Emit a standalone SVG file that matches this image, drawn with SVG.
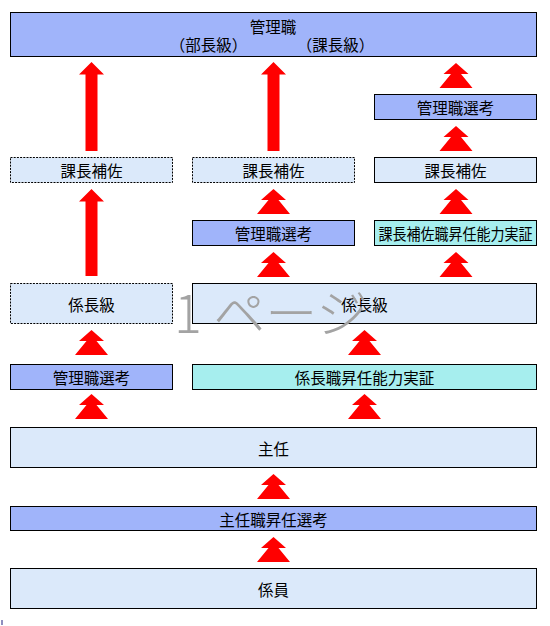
<svg xmlns="http://www.w3.org/2000/svg" width="550" height="626" viewBox="0 0 550 626">
<style>
  .box { stroke: #000; stroke-width: 1; }
  .dash { stroke-dasharray: 2 1.2; }
  .blue { fill: #a0b4fa; }
  .light { fill: #dbe9fa; }
  .cyan { fill: #a6eeee; }
  .lbl { font-family: "Noto Sans CJK JP", "Noto Sans CJK SC", sans-serif; font-size: 15.5px; fill: #000; text-anchor: middle; dominant-baseline: central; }
  .arrow { fill: #ff0000; }
  .wm { font-family: "Noto Sans CJK JP", "Noto Sans CJK SC", sans-serif; font-size: 52px; font-weight: 300; fill: #a3a3a3; }
</style>
<defs>
  <path id="chev" d="M0,0 L12.5,11 L5,11 L16.5,25 L-16.5,25 L-5,11 L-12.5,11 Z"/>
</defs>
<rect width="550" height="626" fill="#ffffff"/>

<g id="n-kanrishoku">
  <rect class="box blue" x="10.5" y="12.5" width="526" height="44"/>
  <text class="lbl" x="273" y="25.5">管理職</text>
  <text class="lbl" x="208.5" y="43.5">（部長級）</text>
  <text class="lbl" x="335.5" y="43.5">（課長級）</text>
</g>
<g id="n-senko-r">
  <rect class="box blue" x="374.5" y="94.5" width="162" height="25"/>
  <text class="lbl" x="455.5" y="107">管理職選考</text>
</g>
<g id="n-kahosa-l">
  <rect class="box light dash" x="10.5" y="157.5" width="162" height="25"/>
  <text class="lbl" x="91.5" y="170">課長補佐</text>
</g>
<g id="n-kahosa-m">
  <rect class="box light dash" x="192.5" y="157.5" width="162" height="25"/>
  <text class="lbl" x="273.5" y="170">課長補佐</text>
</g>
<g id="n-kahosa-r">
  <rect class="box light" x="374.5" y="157.5" width="162" height="25"/>
  <text class="lbl" x="455.5" y="170">課長補佐</text>
</g>
<g id="n-senko-m">
  <rect class="box blue" x="192.5" y="220.5" width="162" height="25"/>
  <text class="lbl" x="273.5" y="233">管理職選考</text>
</g>
<g id="n-kahosa-jissho">
  <rect class="box cyan" x="374.5" y="220.5" width="162" height="25"/>
  <text class="lbl" x="455.5" y="233" textLength="154" lengthAdjust="spacingAndGlyphs">課長補佐職昇任能力実証</text>
</g>
<g id="n-kakaricho-l">
  <rect class="box light dash" x="10.5" y="283.5" width="162" height="40"/>
  <text class="lbl" x="91.5" y="303.5">係長級</text>
</g>
<g id="n-kakaricho-r">
  <rect class="box light" x="192.5" y="283.5" width="344" height="40"/>
  <text class="lbl" x="364.5" y="303.5">係長級</text>
</g>
<g id="n-senko-l">
  <rect class="box blue" x="10.5" y="364.5" width="162" height="25"/>
  <text class="lbl" x="91.5" y="377">管理職選考</text>
</g>
<g id="n-kakaricho-jissho">
  <rect class="box cyan" x="192.5" y="364.5" width="344" height="25"/>
  <text class="lbl" x="364.5" y="377">係長職昇任能力実証</text>
</g>
<g id="n-shunin">
  <rect class="box light" x="10.5" y="427.5" width="526" height="40"/>
  <text class="lbl" x="273.5" y="447.5">主任</text>
</g>
<g id="n-shunin-senko">
  <rect class="box blue" x="10.5" y="506.5" width="526" height="24"/>
  <text class="lbl" x="273.5" y="518.5">主任職昇任選考</text>
</g>
<g id="n-kakariin">
  <rect class="box light" x="10.5" y="568.5" width="526" height="40"/>
  <text class="lbl" x="273.5" y="588.5">係員</text>
</g>

<g id="connectors" class="arrow">
  <path d="M91.5,62 L104,74.5 L97.5,74.5 L97.5,151 L85.5,151 L85.5,74.5 L79,74.5 Z"/>
  <path d="M273.5,62 L286,74.5 L279.5,74.5 L279.5,151 L267.5,151 L267.5,74.5 L261,74.5 Z"/>
  <path d="M91.5,189 L104,201.5 L97.5,201.5 L97.5,276 L85.5,276 L85.5,201.5 L79,201.5 Z"/>
  <use href="#chev" x="456" y="63"/>
  <use href="#chev" x="456" y="126"/>
  <use href="#chev" x="456" y="189"/>
  <use href="#chev" x="456" y="252"/>
  <use href="#chev" x="273.5" y="189"/>
  <use href="#chev" x="273.5" y="252"/>
  <use href="#chev" x="91.5" y="330"/>
  <use href="#chev" x="91.5" y="394"/>
  <use href="#chev" x="364.5" y="330"/>
  <use href="#chev" x="364.5" y="394"/>
  <use href="#chev" x="273.5" y="474"/>
  <use href="#chev" x="273.5" y="537"/>
</g>

<text class="wm" x="174" y="333">1 ページ</text>
<rect x="1.5" y="620" width="1" height="5" fill="#202080"/>
</svg>
